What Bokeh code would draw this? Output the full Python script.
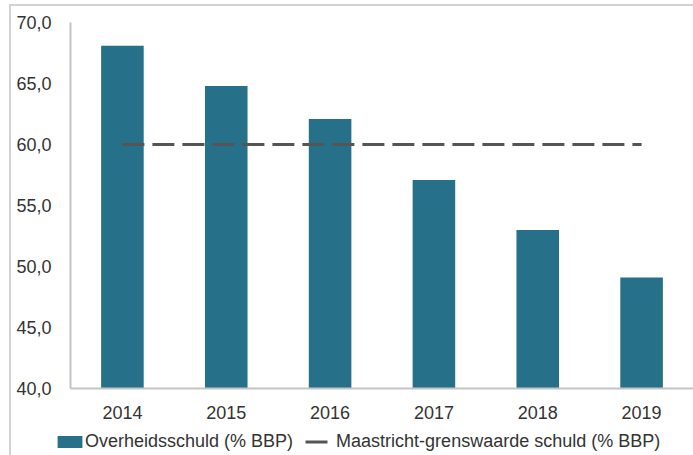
from bokeh.plotting import figure
from bokeh.layouts import column
from bokeh.models import ColumnDataSource, Legend, LegendItem, FixedTicker, CustomJSTickFormatter, FactorRange, Range1d
from bokeh.embed import file_html
from bokeh.resources import INLINE

years = ["2014", "2015", "2016", "2017", "2018", "2019"]
debt = [68.1, 64.8, 62.1, 57.1, 53.0, 49.1]
maastricht = [60.0, 60.0, 60.0, 60.0, 60.0, 60.0]
y_ticks = [40, 45, 50, 55, 60, 65, 70]
labels = ["Overheidsschuld (% BBP)", "Maastricht-grenswaarde schuld (% BBP)"]

FONT = "Liberation Sans"
TXT = "#333333"
BAR = "#27708a"
LINE = "#555555"

src = ColumnDataSource(dict(x=years, debt=debt, m=maastricht))

p = figure(x_range=FactorRange(factors=years, range_padding=0),
           y_range=Range1d(40, 70),
           width=682, height=422, output_backend="svg", toolbar_location=None,
           min_border_left=59, min_border_top=16, min_border_bottom=40, min_border_right=0)
p.frame_align = False
p.outline_line_color = None
p.xgrid.grid_line_color = None
p.ygrid.grid_line_color = None

p.vbar(x="x", top="debt", bottom=40, width=0.41, source=src,
       fill_color=BAR, line_color=None)
p.line(x="x", y="m", source=src, line_color=LINE, line_width=3, line_dash="22 8")

for ax in (p.xaxis[0], p.yaxis[0]):
    ax.axis_line_color = "#c4c4c4"
    ax.axis_line_width = 2
    ax.major_tick_line_color = None
    ax.minor_tick_line_color = None
    ax.major_label_text_font = FONT
    ax.major_label_text_font_size = "18px"
    ax.major_label_text_color = TXT

p.yaxis[0].ticker = FixedTicker(ticks=y_ticks)
p.yaxis[0].formatter = CustomJSTickFormatter(code="return tick.toFixed(1).replace('.', ',');")
p.yaxis[0].major_label_standoff = 13
p.xaxis[0].major_label_standoff = 11

# legend strip (its renderers sit outside the visible range; only their legend swatches show)
lf = figure(width=682, height=27, output_backend="svg", toolbar_location=None,
            x_range=Range1d(0, 1), y_range=Range1d(0, 1),
            x_axis_location=None, y_axis_location=None,
            min_border_left=0, min_border_right=0, min_border_top=0, min_border_bottom=0)
lf.frame_align = False
lf.outline_line_color = None
lf.xgrid.grid_line_color = None
lf.ygrid.grid_line_color = None
swatch = ColumnDataSource(dict(x=[-5, -4], y=[-5, -4]))
rb = lf.vbar(x="x", top="y", width=0.4, source=swatch, fill_color=BAR, line_color=None)
rl = lf.line(x="x", y="y", source=swatch, line_color=LINE, line_width=3, line_dash="22 20")

legend = Legend(items=[LegendItem(label=labels[0], renderers=[rb]),
                       LegendItem(label=labels[1], renderers=[rl])],
                orientation="horizontal", location=(43, 3),
                padding=0, margin=0, spacing=12, label_standoff=0,
                glyph_width=31, glyph_height=15,
                border_line_color=None, background_fill_alpha=0,
                label_text_font=FONT, label_text_font_size="18px", label_text_color=TXT)
lf.add_layout(legend, "center")

layout = column(p, lf, spacing=0,
                styles={"margin-left": "9px", "margin-top": "4px",
                        "border-left": "2px solid #d2d2d2", "border-top": "2px solid #d2d2d2"})

open("out.html", "w").write(file_html(layout, INLINE))
